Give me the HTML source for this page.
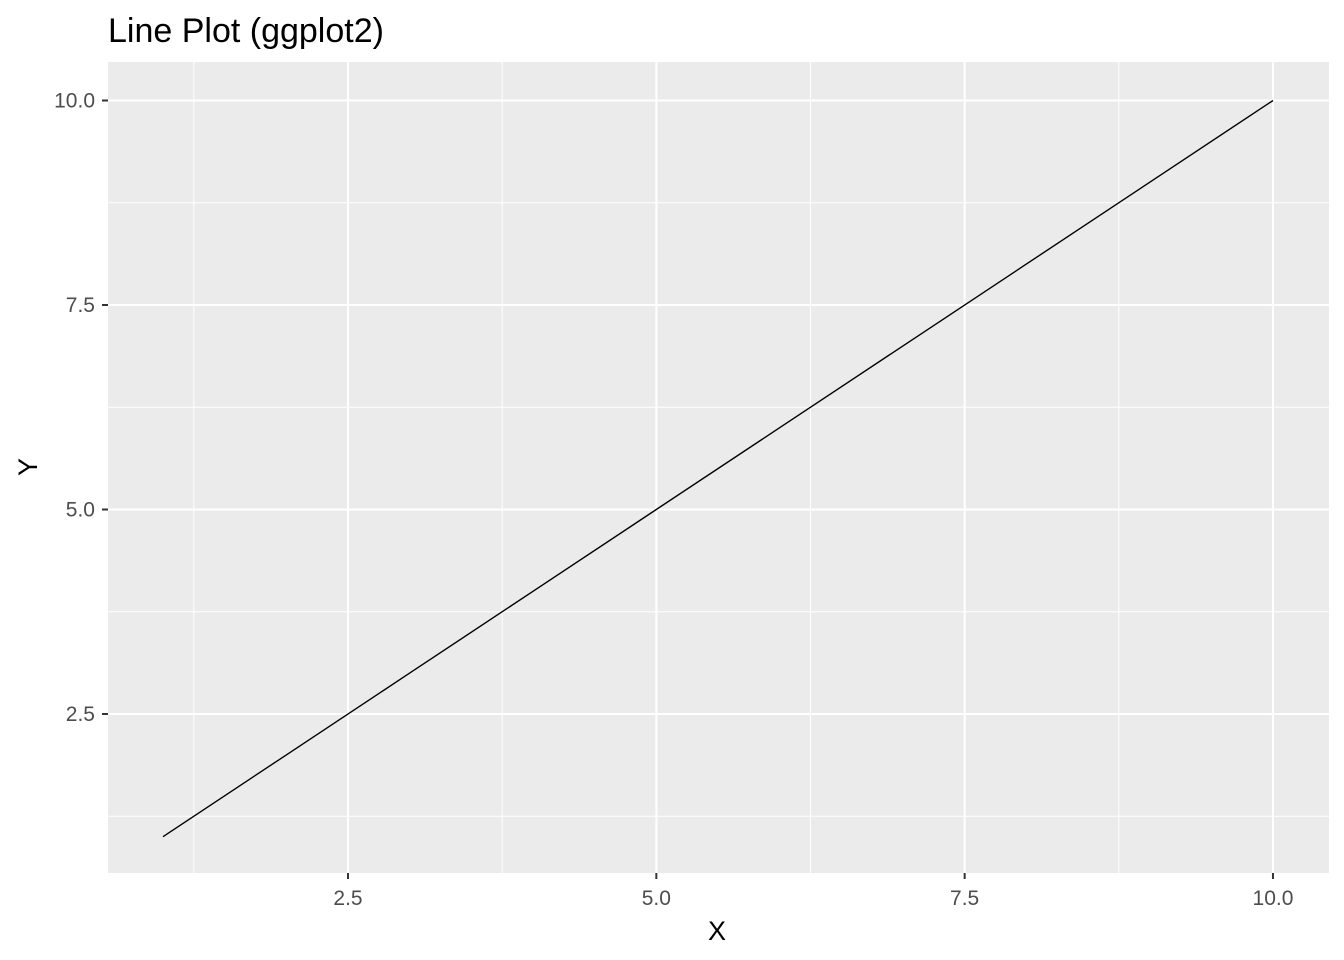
<!DOCTYPE html>
<html><head><meta charset="utf-8"><style>
body{margin:0;background:#fff;}
svg{display:block;font-family:"Liberation Sans",Arial,sans-serif;}
</style></head><body>
<svg id="chart" width="1344" height="960">
<text x="108" y="42" font-size="34" fill="#000">Line Plot (ggplot2)</text>
<rect x="108" y="62" width="1221" height="811" fill="#ebebeb"/>
<g id="grid"></g>
<g id="axes"></g>
<polyline id="line" fill="none" stroke="#000" stroke-width="1.4"/>
<text x="717" y="940" font-size="27" text-anchor="middle" fill="#000">X</text>
<text transform="translate(37,467) rotate(-90)" font-size="27" text-anchor="middle" fill="#000">Y</text>
</svg>
<script>
const xValues=[1,2,3,4,5,6,7,8,9,10];
const yValues=[1,2,3,4,5,6,7,8,9,10];
const xTicks=[2.5,5.0,7.5,10.0];
const yTicks=[2.5,5.0,7.5,10.0];
const xMinor=[1.25,3.75,6.25,8.75];
const yMinor=[1.25,3.75,6.25,8.75];
const NS="http://www.w3.org/2000/svg";
function sx(v){return 348+(v-2.5)*123.33;}
function sy(v){return 714-(v-2.5)*81.8;}
const grid=document.getElementById('grid'),axes=document.getElementById('axes');
function ln(p,x1,y1,x2,y2,c,w,name){const l=document.createElementNS(NS,'line');
l.setAttribute('x1',x1);l.setAttribute('y1',y1);l.setAttribute('x2',x2);l.setAttribute('y2',y2);
l.setAttribute('stroke',c);l.setAttribute('stroke-width',w);


p.appendChild(l);}
function tx(x,y,s,anchor,name){const t=document.createElementNS(NS,'text');
t.setAttribute('x',x);t.setAttribute('y',y);t.setAttribute('font-size','21');t.setAttribute('fill','#4d4d4d');t.setAttribute('text-anchor',anchor);t.textContent=s;


axes.appendChild(t);}
xMinor.forEach(v=>ln(grid,sx(v),62,sx(v),873,'#fff',1,'x-minor-gridline'));
yMinor.forEach(v=>ln(grid,108,sy(v),1329,sy(v),'#fff',1,'y-minor-gridline'));
xTicks.forEach(v=>{ln(grid,sx(v),62,sx(v),873,'#fff',2,'x-major-gridline');
ln(axes,sx(v),873,sx(v),879,'#333',2,'x-tick');tx(sx(v),905,v.toFixed(1),'middle','x-tick-label');});
yTicks.forEach(v=>{ln(grid,108,sy(v),1329,sy(v),'#fff',2,'y-major-gridline');
ln(axes,102,sy(v),108,sy(v),'#333',2,'y-tick');tx(95,sy(v)+7,v.toFixed(1),'end','y-tick-label');});
document.getElementById('line').setAttribute('points',xValues.map((x,i)=>sx(x)+','+sy(yValues[i])).join(' '));
</script>
</body></html>
